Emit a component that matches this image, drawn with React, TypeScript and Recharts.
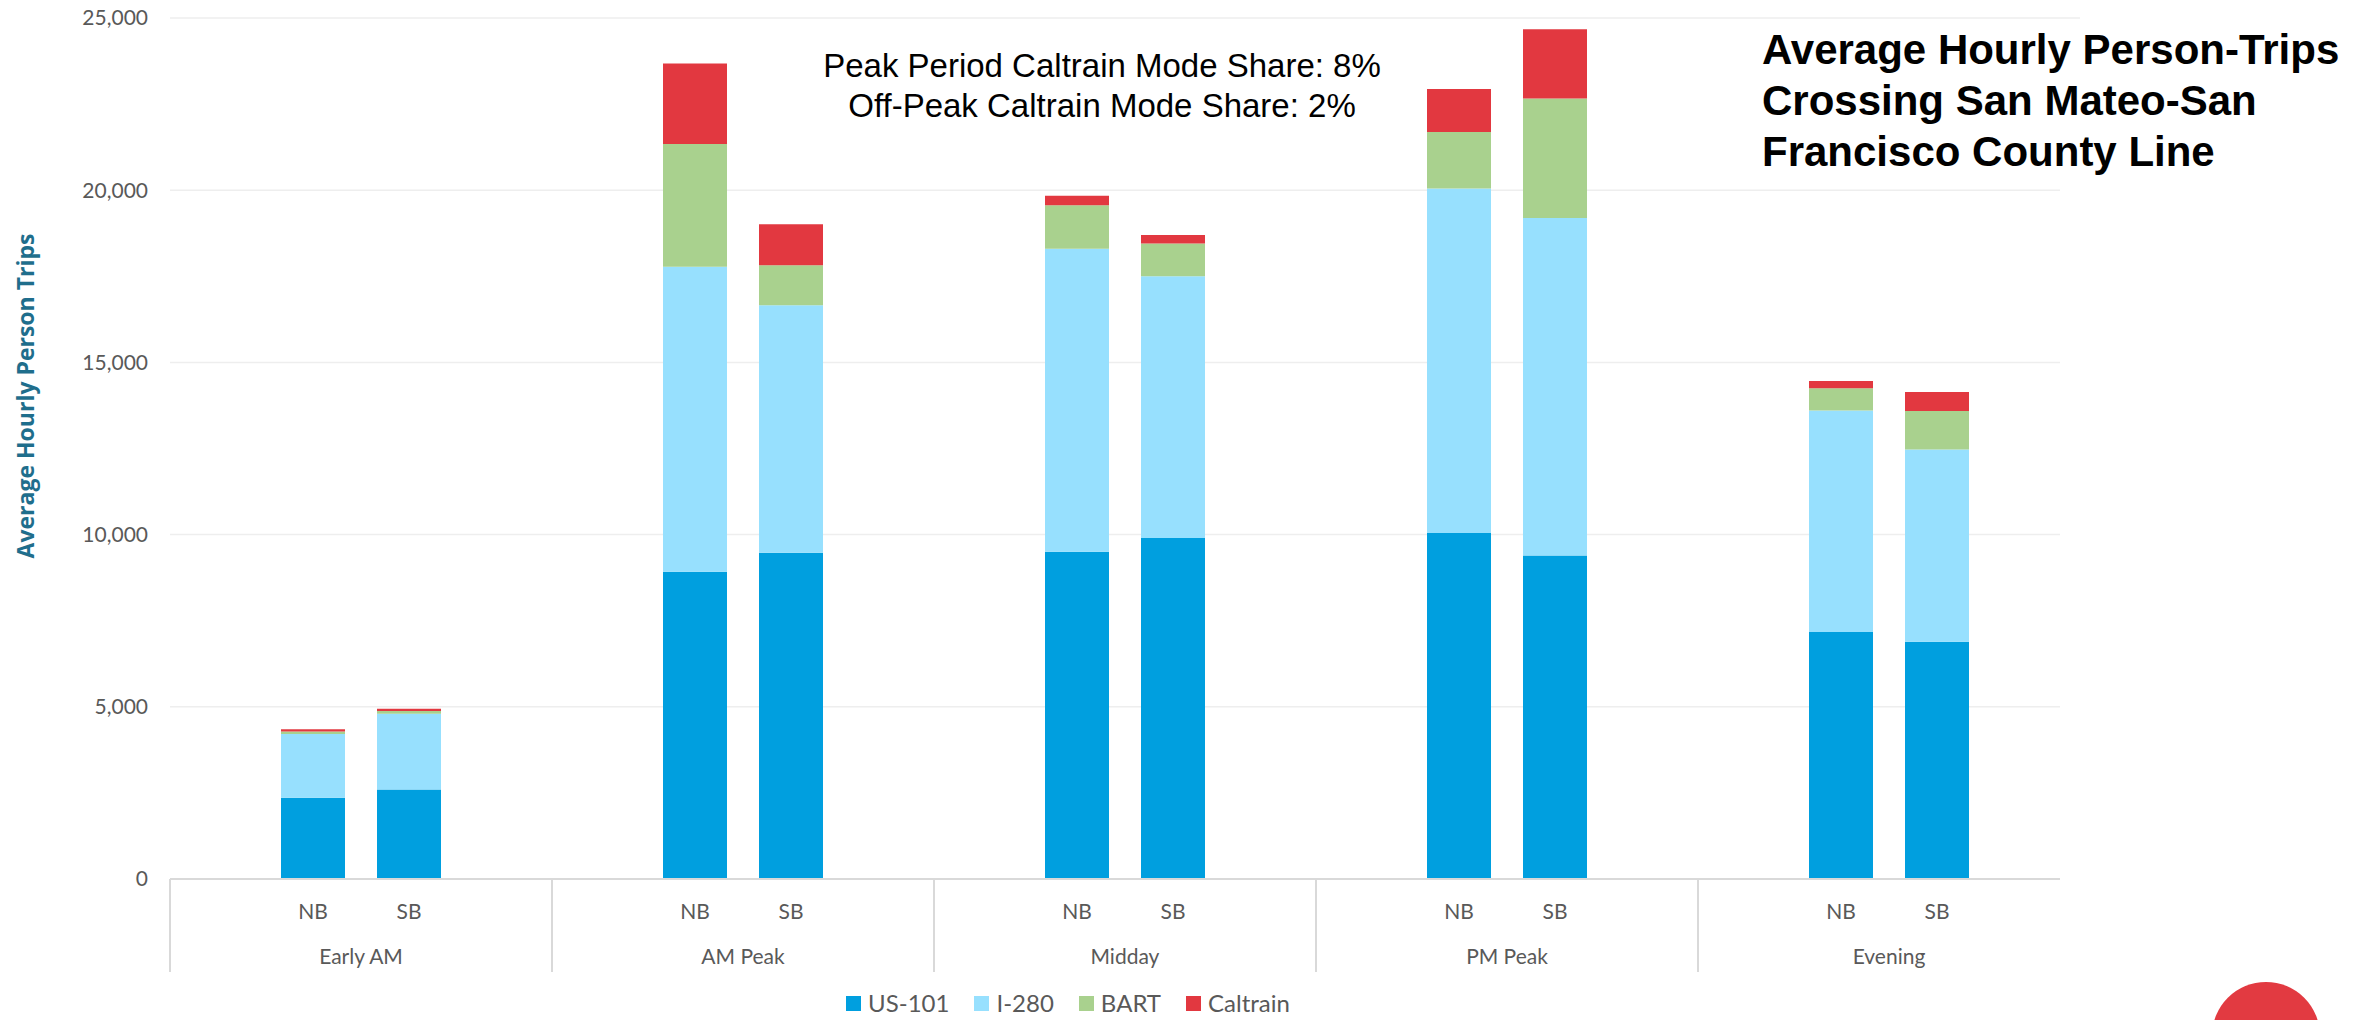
import { BarChart, Bar, XAxis, YAxis, CartesianGrid } from "recharts";

// time periods and directions
const periods = ["Early AM", "AM Peak", "Midday", "PM Peak", "Evening"];
const directions = ["NB", "SB"];

// northbound person-trips by mode
const us101NB = [2360, 8920, 9500, 10050, 7170];
const i280NB = [1850, 8860, 8800, 10000, 6430];
const bartNB = [70, 3560, 1260, 1640, 650];
const caltrainNB = [70, 2340, 280, 1250, 210];

// southbound person-trips by mode
const us101SB = [2600, 9470, 9900, 9390, 6890];
const i280SB = [2200, 7190, 7600, 9800, 5580];
const bartSB = [80, 1160, 950, 3470, 1120];
const caltrainSB = [60, 1190, 250, 2010, 550];

const modes = ["US-101", "I-280", "BART", "Caltrain"];
const modeKeys = ["us101", "i280", "bart", "caltrain"];
const modeColors = ["#009FDF", "#97E0FE", "#A9D18E", "#E23840"];

const yTicks = [0, 5000, 10000, 15000, 20000, 25000];

const notes = ["Peak Period Caltrain Mode Share: 8%", "Off-Peak Caltrain Mode Share: 2%"];
const titleLines = ["Average Hourly Person-Trips", "Crossing San Mateo-San", "Francisco County Line"];

const data = periods.map((p, i) => ({
  period: p,
  us101NB: us101NB[i], i280NB: i280NB[i], bartNB: bartNB[i], caltrainNB: caltrainNB[i],
  us101SB: us101SB[i], i280SB: i280SB[i], bartSB: bartSB[i], caltrainSB: caltrainSB[i],
}));

const W = 2374;
const H = 1020;
const LEFT = 170;
const RIGHT = 294;
const BAND = (W - LEFT - RIGHT) / periods.length;
const BAR_SIZE = 64;
const BAR_GAP = 32;
const GREY = "#595959";
const CALIBRI = "Lato, 'Open Sans', sans-serif";

const GroupTick = (props: any) => {
  const { x, y, payload } = props;
  const half = (BAR_SIZE + BAR_GAP) / 2;
  const left = x - BAND / 2;
  return (
    <g>
      {directions.map((d, i) => (
        <text key={d} x={x + (i === 0 ? -half : half)} y={y + 40} textAnchor="middle"
          fontSize={21} fill={GREY} fontFamily={CALIBRI}>{d}</text>
      ))}
      <text x={x} y={y + 85} textAnchor="middle" fontSize={21} fill={GREY} fontFamily={CALIBRI}>
        {payload.value}
      </text>
      <line x1={left} x2={left} y1={y} y2={y + 93} stroke="#D9D9D9" strokeWidth={2} />
    </g>
  );
};

export default function App() {
  return (
    <div style={{ position: "fixed", top: 0, left: 0, width: W, height: H, overflow: "hidden", background: "#fff" }}>
      <BarChart width={W} height={H} data={data} barSize={BAR_SIZE} barGap={BAR_GAP}
        margin={{ top: 18, right: RIGHT, bottom: 0, left: 0 }}>
        <CartesianGrid vertical={false} stroke="#EEEEEE" strokeWidth={1.5} />
        <XAxis dataKey="period" height={141} tickLine={false} tickSize={0} tickMargin={0}
          axisLine={{ stroke: "#D9D9D9", strokeWidth: 2 }} tick={<GroupTick />} interval={0} />
        <YAxis width={LEFT} domain={[0, 25000]} ticks={yTicks} axisLine={false} tickLine={false}
          tickMargin={16} tickFormatter={(v: number) => v.toLocaleString("en-US")}
          tick={{ fontSize: 21, fill: GREY, fontFamily: CALIBRI }} />
        {directions.map((d) =>
          modeKeys.map((k, i) => (
            <Bar key={k + d} dataKey={k + d} name={modes[i]} stackId={d} fill={modeColors[i]}
              isAnimationActive={false} />
          ))
        )}
      </BarChart>

      <svg width={W} height={H} style={{ position: "absolute", top: 0, left: 0, pointerEvents: "none" }}>
        <rect x={2060} y={30} width={60} height={880} fill="#fff" />
        <text transform="translate(34, 396) rotate(-90)" textAnchor="middle" fontSize={23}
          fontWeight="bold" fill="#1F6E8C" fontFamily="'Open Sans', sans-serif">
          Average Hourly Person Trips
        </text>
        {notes.map((n, i) => (
          <text key={n} x={1102} y={77 + i * 40} textAnchor="middle" fontSize={33} fill="#000"
            fontFamily="'Liberation Sans', Arial, sans-serif">{n}</text>
        ))}
        {titleLines.map((t, i) => (
          <text key={t} x={1762} y={64 + i * 51} fontSize={42} fontWeight="bold" fill="#000"
            fontFamily="'Liberation Sans', Arial, sans-serif">{t}</text>
        ))}
        <circle cx={2266} cy={1036} r={54} fill="#E23A41" />
      </svg>

      <div style={{ position: "absolute", top: 991, left: 0, width: 2136, display: "flex",
        justifyContent: "center", gap: 25, fontFamily: CALIBRI, fontSize: 24, color: GREY }}>
        {modes.map((m, i) => (
          <div key={m} style={{ display: "flex", alignItems: "center", gap: 7, height: 24 }}>
            <span style={{ width: 15, height: 15, background: modeColors[i], display: "inline-block" }} />
            <span style={{ lineHeight: "24px" }}>{m}</span>
          </div>
        ))}
      </div>
    </div>
  );
}
